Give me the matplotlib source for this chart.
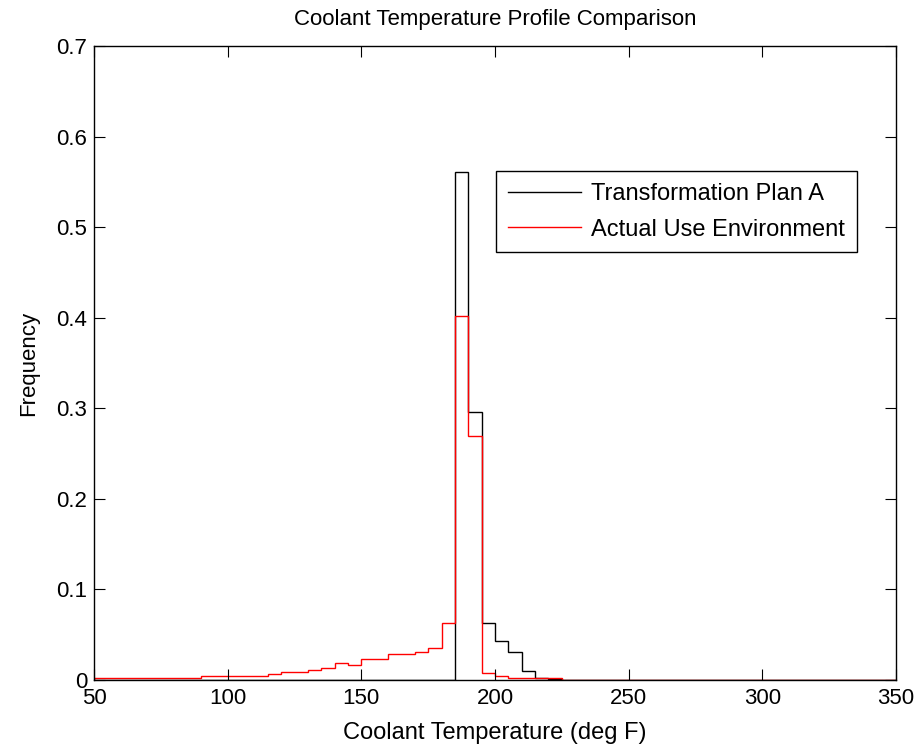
import numpy as np
import matplotlib
matplotlib.use("Agg")
import matplotlib.pyplot as plt

plt.rcParams['font.family'] = ['Liberation Sans', 'DejaVu Sans']

# bin edges, 5 deg F wide from 50 to 350
edges = np.arange(50, 355, 5)

# Transformation Plan A: only non-zero from 185 to 225
plan_a_start = 185
plan_a = [0.561, 0.296, 0.0633, 0.043, 0.0306, 0.0103, 0.0026, 0.001]

# Actual Use Environment, 50 -> 225 (zero after that)
actual_use = [0.0026] * 8 + [0.0044] * 5 + [0.0063, 0.0085, 0.0085, 0.011, 0.0129,
              0.0184, 0.0162, 0.0229, 0.0229, 0.0287, 0.0287, 0.0306, 0.035,
              0.0633, 0.402, 0.269, 0.0081, 0.0044, 0.0026, 0.0026, 0.002, 0.002]

nb = len(edges) - 1
black = np.zeros(nb)
i0 = (plan_a_start - 50) // 5
black[i0:i0 + len(plan_a)] = plan_a
red = np.zeros(nb)
red[:len(actual_use)] = actual_use

fig = plt.figure(figsize=(9.24, 7.48), dpi=100)
ax = fig.add_axes([0.1017, 0.0909, 0.8680, 0.8476])

ax.stairs(black, edges, color='black', linewidth=1, baseline=0, label='Transformation Plan A')
ax.stairs(red, edges, color='red', linewidth=1, baseline=0, label='Actual Use Environment')

ax.set_xlim(50, 350)
ax.set_ylim(0, 0.7)
ax.set_xticks(np.arange(50, 351, 50))
ax.set_yticks(np.arange(0, 0.71, 0.1))
ax.set_yticklabels(['0', '0.1', '0.2', '0.3', '0.4', '0.5', '0.6', '0.7'])
ax.tick_params(direction='in', top=True, right=True, labelsize=16, length=8)
ax.tick_params(axis='x', pad=6)
ax.tick_params(axis='y', pad=5)
for s in ax.spines.values():
    s.set_linewidth(1)

ax.set_xlabel('Coolant Temperature (deg F)', fontsize=17, labelpad=9)
ax.set_ylabel('Frequency', fontsize=16, labelpad=12)
ax.set_title('Coolant Temperature Profile Comparison', fontsize=16, pad=15)

leg = ax.legend(loc='upper right', bbox_to_anchor=(0.9514, 0.8028), borderaxespad=0,
                fontsize=17, fancybox=False, edgecolor='black', framealpha=1,
                handlelength=3.1, handletextpad=0.42, borderpad=0.5, labelspacing=0.58)
leg.get_frame().set_linewidth(1)

fig.savefig('out.png', dpi=100)
